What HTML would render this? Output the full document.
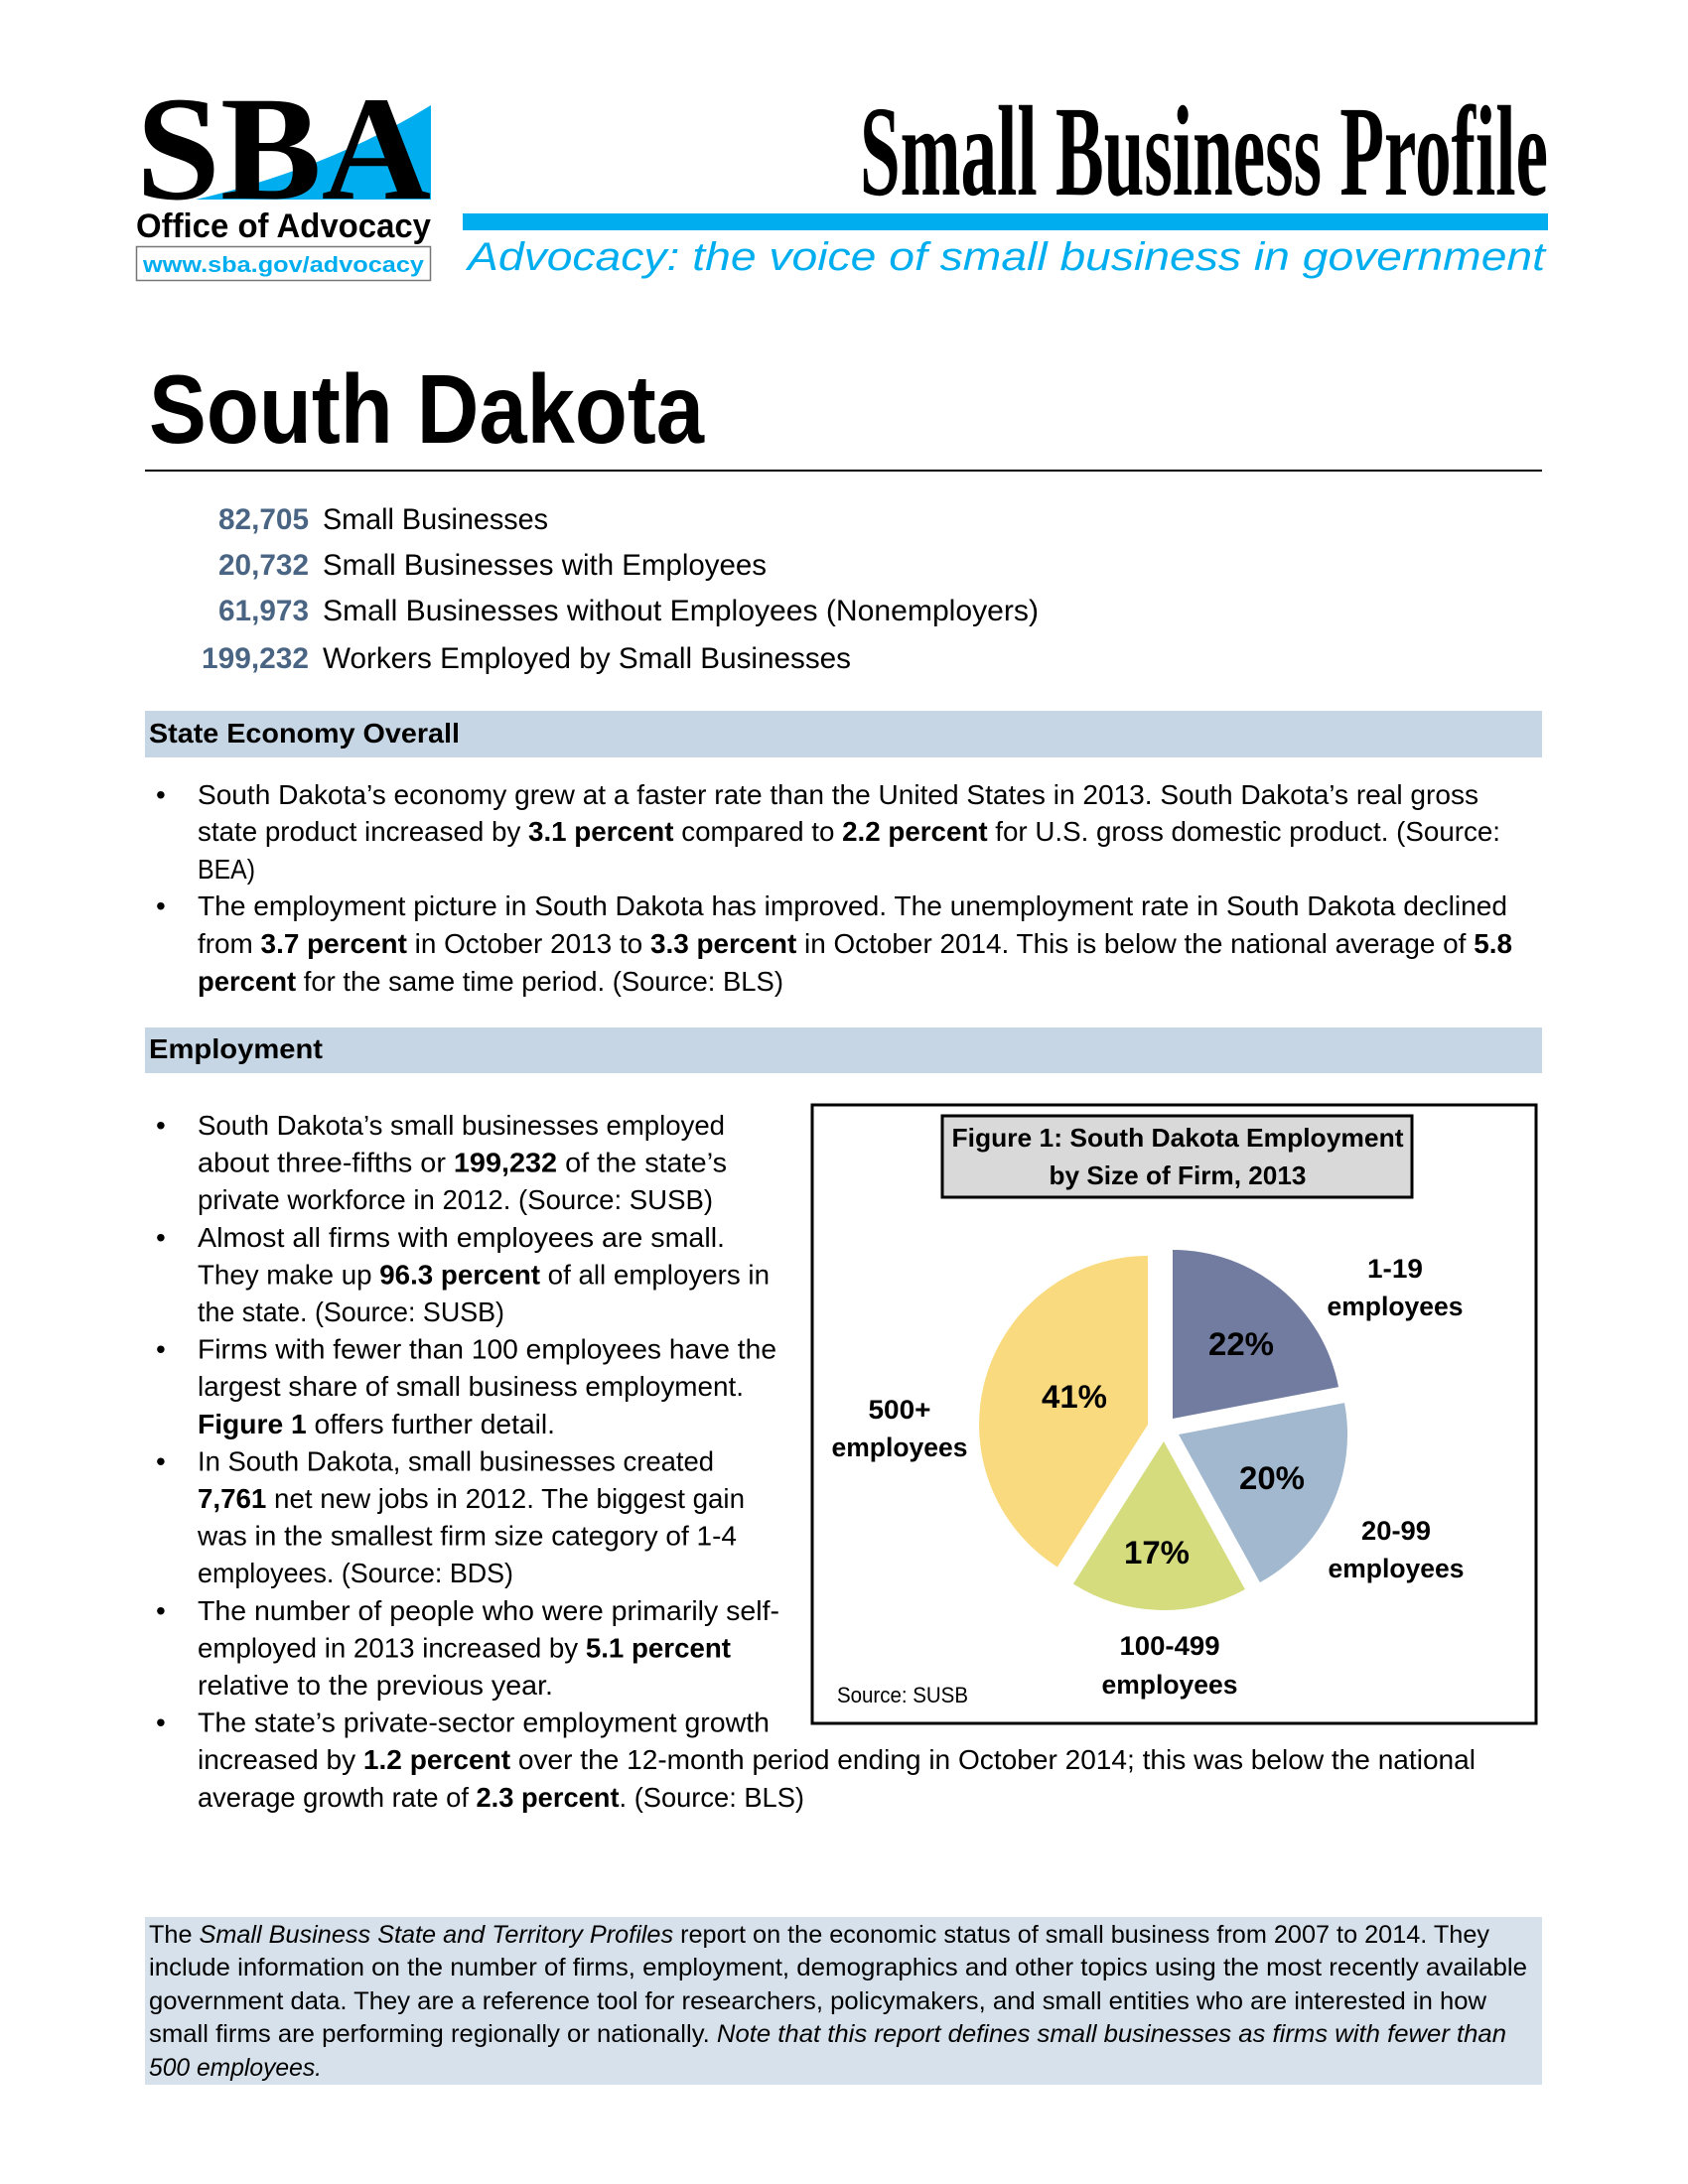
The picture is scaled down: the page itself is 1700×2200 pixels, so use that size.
<!DOCTYPE html>
<html><head><meta charset="utf-8"><style>
html,body{margin:0;padding:0;background:#fff}
svg{display:block}
text{font-family:"Liberation Sans",sans-serif;fill:#000}
.b{font-size:28px}
.s{font-size:30px}
.f{font-size:25px}
.bold{font-weight:bold}
</style></head><body>
<svg width="1700" height="2200" viewBox="0 0 1700 2200" xmlns="http://www.w3.org/2000/svg">
<path d="M197,201 Q330,170 434,106 L434,201 Z" fill="#00aeef"/>
<text x="137" y="200" textLength="297" lengthAdjust="spacingAndGlyphs" style="font-family:'Liberation Serif',serif;font-weight:bold;font-size:150px">SBA</text>
<text x="137" y="239" textLength="297" lengthAdjust="spacingAndGlyphs" style="font-weight:bold;font-size:34px">Office of Advocacy</text>
<rect x="137.5" y="248.5" width="296" height="34" fill="#fff" stroke="#777" stroke-width="1.5"/>
<text x="144" y="274" textLength="283" lengthAdjust="spacingAndGlyphs" style="font-weight:bold;font-size:22px;fill:#00aeef">www.sba.gov/advocacy</text>
<text x="866" y="196" textLength="693" lengthAdjust="spacingAndGlyphs" style="font-family:'Liberation Serif',serif;font-weight:bold;font-size:130px">Small Business Profile</text>
<rect x="466" y="215" width="1093" height="17" fill="#00aeef"/>
<text x="471" y="272" textLength="1085" lengthAdjust="spacingAndGlyphs" style="font-style:italic;font-size:40px;fill:#00aeef">Advocacy: the voice of small business in government</text>
<text x="150" y="446" textLength="559" lengthAdjust="spacingAndGlyphs" style="font-weight:bold;font-size:98px">South Dakota</text>
<rect x="146" y="473" width="1407" height="2" fill="#000"/>
<g class="s">
<text x="311" y="533" text-anchor="end" textLength="91" lengthAdjust="spacingAndGlyphs" class="s bold" style="fill:#4a6583">82,705</text>
<text x="325" y="533" textLength="227" lengthAdjust="spacingAndGlyphs" class="s">Small Businesses</text>
<text x="311" y="579" text-anchor="end" textLength="91" lengthAdjust="spacingAndGlyphs" class="s bold" style="fill:#4a6583">20,732</text>
<text x="325" y="579" textLength="447" lengthAdjust="spacingAndGlyphs" class="s">Small Businesses with Employees</text>
<text x="311" y="625" text-anchor="end" textLength="91" lengthAdjust="spacingAndGlyphs" class="s bold" style="fill:#4a6583">61,973</text>
<text x="325" y="625" textLength="721" lengthAdjust="spacingAndGlyphs" class="s">Small Businesses without Employees (Nonemployers)</text>
<text x="311" y="673" text-anchor="end" textLength="108" lengthAdjust="spacingAndGlyphs" class="s bold" style="fill:#4a6583">199,232</text>
<text x="325" y="673" textLength="532" lengthAdjust="spacingAndGlyphs" class="s">Workers Employed by Small Businesses</text>
</g>
<rect x="146" y="716" width="1407" height="47" fill="#c6d6e4"/>
<text x="150" y="748" textLength="313" lengthAdjust="spacingAndGlyphs" class="b bold">State Economy Overall</text>
<text x="157" y="810" class="b">•</text>
<text x="199" y="810" textLength="1290" lengthAdjust="spacingAndGlyphs" class="b">South Dakota’s economy grew at a faster rate than the United States in 2013. South Dakota’s  real gross</text>
<text x="199" y="847" textLength="1312" lengthAdjust="spacingAndGlyphs" class="b">state product increased by <tspan class="bold">3.1 percent</tspan> compared to <tspan class="bold">2.2 percent</tspan> for U.S. gross domestic product. (Source:</text>
<text x="199" y="885" textLength="58" lengthAdjust="spacingAndGlyphs" class="b">BEA)</text>
<text x="157" y="922" class="b">•</text>
<text x="199" y="922" textLength="1319" lengthAdjust="spacingAndGlyphs" class="b">The employment picture in South Dakota has improved. The unemployment rate in South Dakota declined</text>
<text x="199" y="960" textLength="1324" lengthAdjust="spacingAndGlyphs" class="b">from <tspan class="bold">3.7 percent</tspan> in October 2013 to <tspan class="bold">3.3 percent</tspan> in October 2014. This is below the national average of <tspan class="bold">5.8</tspan></text>
<text x="199" y="998" textLength="590" lengthAdjust="spacingAndGlyphs" class="b"><tspan class="bold">percent</tspan> for the same time period. (Source: BLS)</text>
<rect x="146" y="1035" width="1407" height="46" fill="#c6d6e4"/>
<text x="150" y="1066" textLength="175" lengthAdjust="spacingAndGlyphs" class="b bold">Employment</text>
<g class="b">
<text x="157" y="1143">•</text>
<text x="199" y="1143" textLength="531" lengthAdjust="spacingAndGlyphs">South Dakota’s small businesses employed</text>
<text x="199" y="1180.6" textLength="533" lengthAdjust="spacingAndGlyphs">about three-fifths or <tspan class="bold">199,232</tspan> of the state’s</text>
<text x="199" y="1218.2" textLength="519" lengthAdjust="spacingAndGlyphs">private workforce in 2012. (Source: SUSB)</text>
<text x="157" y="1255.8">•</text>
<text x="199" y="1255.8" textLength="531" lengthAdjust="spacingAndGlyphs">Almost  all firms with employees are small.</text>
<text x="199" y="1293.4" textLength="576" lengthAdjust="spacingAndGlyphs">They make up <tspan class="bold">96.3 percent</tspan> of all employers in</text>
<text x="199" y="1331" textLength="309" lengthAdjust="spacingAndGlyphs">the state. (Source: SUSB)</text>
<text x="157" y="1368.6">•</text>
<text x="199" y="1368.6" textLength="583" lengthAdjust="spacingAndGlyphs">Firms with fewer than 100 employees have the</text>
<text x="199" y="1406.2" textLength="550" lengthAdjust="spacingAndGlyphs">largest share of small business employment.</text>
<text x="199" y="1443.8" textLength="360" lengthAdjust="spacingAndGlyphs"><tspan class="bold">Figure 1</tspan> offers further detail.</text>
<text x="157" y="1481.4">•</text>
<text x="199" y="1481.4" textLength="520" lengthAdjust="spacingAndGlyphs">In South Dakota, small businesses created</text>
<text x="199" y="1519" textLength="551" lengthAdjust="spacingAndGlyphs"><tspan class="bold">7,761</tspan> net new jobs in 2012. The biggest gain</text>
<text x="199" y="1556.6" textLength="543" lengthAdjust="spacingAndGlyphs">was in the smallest firm size category of 1-4</text>
<text x="199" y="1594.2" textLength="318" lengthAdjust="spacingAndGlyphs">employees. (Source: BDS)</text>
<text x="157" y="1631.8">•</text>
<text x="199" y="1631.8" textLength="586" lengthAdjust="spacingAndGlyphs">The number of people who were primarily self-</text>
<text x="199" y="1669.4" textLength="537" lengthAdjust="spacingAndGlyphs">employed in 2013 increased by <tspan class="bold">5.1 percent</tspan></text>
<text x="199" y="1707" textLength="358" lengthAdjust="spacingAndGlyphs">relative to the previous year.</text>
<text x="157" y="1744.6">•</text>
<text x="199" y="1744.6" textLength="576" lengthAdjust="spacingAndGlyphs">The state’s private-sector employment growth</text>
<text x="199" y="1782.2" textLength="1287" lengthAdjust="spacingAndGlyphs">increased by <tspan class="bold">1.2 percent</tspan> over the 12-month period ending in October 2014; this was below the national</text>
<text x="199" y="1819.8" textLength="611" lengthAdjust="spacingAndGlyphs">average growth rate of <tspan class="bold">2.3 percent</tspan>. (Source: BLS)</text>
</g>
<rect x="818" y="1113" width="729" height="623" fill="#fff" stroke="#000" stroke-width="3"/>
<rect x="949" y="1124" width="473" height="82" fill="#d9d9d9" stroke="#000" stroke-width="3"/>
<text x="1186" y="1155" text-anchor="middle" textLength="455" lengthAdjust="spacingAndGlyphs" style="font-weight:bold;font-size:26px">Figure 1: South Dakota Employment</text>
<text x="1186" y="1193" text-anchor="middle" textLength="259" lengthAdjust="spacingAndGlyphs" style="font-weight:bold;font-size:26px">by Size of Firm, 2013</text>
<path d="M1181,1429 L1181,1259 A170,170 0 0 1 1348,1397.1 Z" fill="#717ca0"/>
<path d="M1187,1445 L1354,1413.1 A170,170 0 0 1 1268.9,1594 Z" fill="#a2b8cf"/>
<path d="M1172,1452 L1253.9,1601 A170,170 0 0 1 1080.9,1595.5 Z" fill="#d4dc7e"/>
<path d="M1156,1435 L1064.9,1578.5 A170,170 0 0 1 1156,1265 Z" fill="#f9da7f"/>
<g style="font-weight:bold;font-size:32px" text-anchor="middle">
<text x="1250" y="1365" textLength="66" lengthAdjust="spacingAndGlyphs">22%</text>
<text x="1281" y="1500" textLength="66" lengthAdjust="spacingAndGlyphs">20%</text>
<text x="1165" y="1575" textLength="66" lengthAdjust="spacingAndGlyphs">17%</text>
<text x="1082" y="1418" textLength="66" lengthAdjust="spacingAndGlyphs">41%</text>
</g>
<g style="font-weight:bold;font-size:27px" text-anchor="middle">
<text x="1405" y="1287" textLength="56" lengthAdjust="spacingAndGlyphs">1-19</text>
<text x="1405" y="1325" textLength="137" lengthAdjust="spacingAndGlyphs">employees</text>
<text x="906" y="1429" textLength="63" lengthAdjust="spacingAndGlyphs">500+</text>
<text x="906" y="1467" textLength="137" lengthAdjust="spacingAndGlyphs">employees</text>
<text x="1406" y="1551" textLength="70" lengthAdjust="spacingAndGlyphs">20-99</text>
<text x="1406" y="1589" textLength="137" lengthAdjust="spacingAndGlyphs">employees</text>
<text x="1178" y="1667" textLength="101" lengthAdjust="spacingAndGlyphs">100-499</text>
<text x="1178" y="1706" textLength="137" lengthAdjust="spacingAndGlyphs">employees</text>
</g>
<text x="843" y="1715" textLength="132" lengthAdjust="spacingAndGlyphs" style="font-size:22px">Source: SUSB</text>
<rect x="146" y="1931" width="1407" height="169" fill="#d6e1eb"/>
<g class="f">
<text x="150" y="1957" textLength="1350" lengthAdjust="spacingAndGlyphs">The <tspan font-style="italic">Small Business State and Territory Profiles</tspan> report on the economic status of small business from 2007 to 2014. They</text>
<text x="150" y="1990" textLength="1388" lengthAdjust="spacingAndGlyphs">include information on the number of firms, employment, demographics and other topics using the most recently available</text>
<text x="150" y="2024" textLength="1347" lengthAdjust="spacingAndGlyphs">government data. They are a reference tool for researchers, policymakers, and small entities who are interested in how</text>
<text x="150" y="2057" textLength="1367" lengthAdjust="spacingAndGlyphs">small firms are performing regionally or nationally. <tspan font-style="italic">Note that this report defines small businesses as firms with fewer than</tspan></text>
<text x="150" y="2091" textLength="174" lengthAdjust="spacingAndGlyphs" font-style="italic">500 employees.</text>
</g>
</svg>
</body></html>
